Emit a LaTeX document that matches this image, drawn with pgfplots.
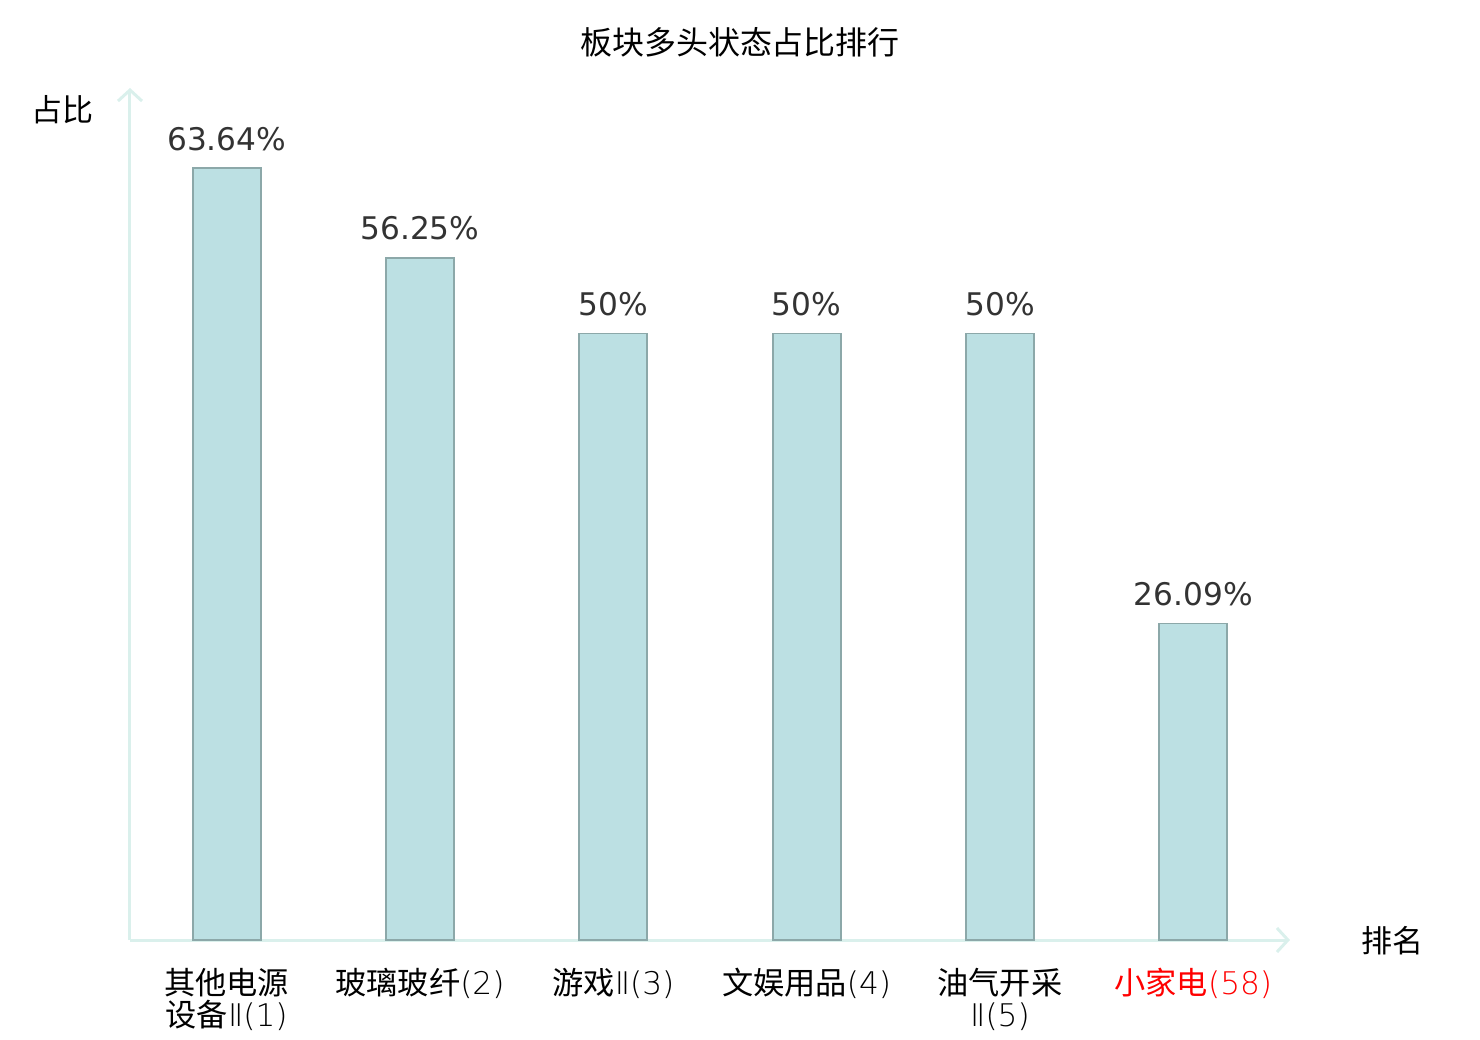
\documentclass[border=0pt]{standalone}
\usepackage{pgfplots}
\pgfplotsset{compat=1.18}
\usepackage{fontspec}
\setmainfont{DejaVu Sans}
\newfontfamily\cjk{Noto Sans CJK SC}
\newfontfamily\thin{DejaVu Sans ExtraLight}
\usetikzlibrary{arrows.meta}
\definecolor{axiscol}{HTML}{DAF0EC}
\definecolor{barfill}{HTML}{BCE0E3}
\definecolor{baredge}{HTML}{8CA8A9}
\definecolor{numcol}{HTML}{333333}
\begin{document}
\begin{tikzpicture}
\useasboundingbox (-65pt,-50pt) rectangle (675pt,470pt);
\begin{axis}[
  scale only axis,
  width=580pt, height=426pt,
  xmin=-0.5, xmax=5.5, ymin=0, ymax=70.24,
  axis lines=left,
  axis line style={draw=axiscol, line width=1.5pt, -{Straight Barb[length=5.5pt,width=12pt,line width=1.5pt]}},
  ytick=\empty,
  xtick={0,1,2,3,4,5},
  major tick length=0pt,
  xticklabels={{其他电源\\设备{\thin Ⅱ(1)}},{玻璃玻纤{\thin(2)}},{游戏{\thin Ⅱ(3)}},{文娱用品{\thin(4)}},{油气开采\\{\thin Ⅱ(5)}},{\color{red}小家电{\thin(58)}}},
  xticklabel style={font=\cjk\fontsize{15.6pt}{16pt}\selectfont, align=center, anchor=north, yshift=-14pt, inner sep=0pt},
  clip=false,
  point meta=explicit symbolic,
  nodes near coords,
  nodes near coords style={font=\fontsize{15.6pt}{18pt}\selectfont, text=numcol, anchor=south, yshift=5pt},
]
\addplot[ybar, bar width=34pt, fill=barfill, draw=baredge, line width=0.9pt]
 coordinates {(0,63.64) [63.64\%] (1,56.25) [56.25\%] (2,50) [50\%] (3,50) [50\%] (4,50) [50\%] (5,26.09) [26.09\%]};
\end{axis}
\node[font=\cjk\fontsize{16pt}{16pt}\selectfont] at (305pt,449pt) {板块多头状态占比排行};
\node[font=\cjk\fontsize{15.5pt}{16pt}\selectfont] at (-33.5pt,415pt) {占比};
\node[font=\cjk\fontsize{15.5pt}{16pt}\selectfont] at (631pt,-0.5pt) {排名};
\end{tikzpicture}
\end{document}
